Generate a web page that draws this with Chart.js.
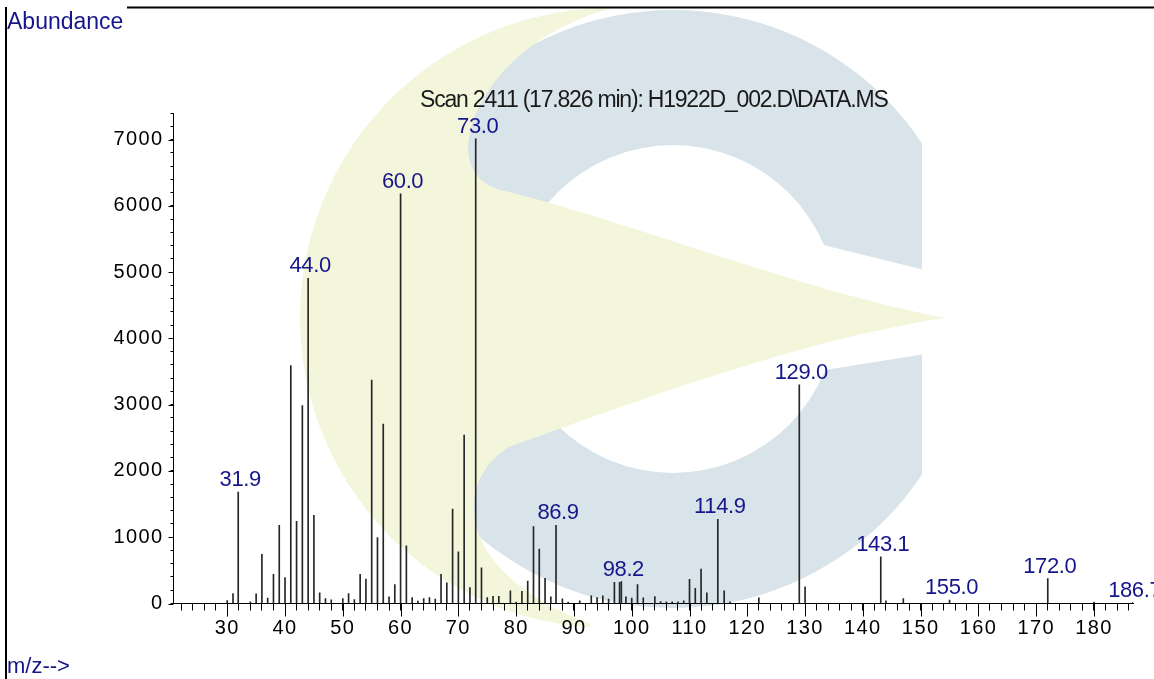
<!DOCTYPE html>
<html>
<head>
<meta charset="utf-8">
<title>Scan 2411 (17.826 min)</title>
<script src="https://cdn.jsdelivr.net/npm/chart.js@4.4.1/dist/chart.umd.min.js"></script>
<style>
    html, body { margin: 0; padding: 0; background: #fff; }
</style>
</head>
<body>
<canvas id="ms" width="1154" height="679"></canvas>
<script>
// peaks of the scan: m/z and abundance
const mz = [30, 31, 31.9, 34, 35, 36, 37, 38, 39, 40, 41, 42, 43, 44, 45, 46, 47, 48,
    50, 51, 52, 53, 54, 55, 56, 57, 58, 59, 60, 61, 62, 63, 64, 65, 66, 67, 68, 69,
    70, 71, 72, 73, 74, 75, 76, 77, 79, 80, 81, 82, 83, 84, 85, 86, 86.9, 88, 89,
    91, 93, 94, 95, 96, 97, 97.9, 98.2, 99, 100, 101, 102, 104, 105, 106, 107, 108,
    109, 110, 111, 112, 113, 114.9, 116, 117, 122, 129, 130, 143.1, 144, 147, 155,
    172, 180, 186.7];
const abundance = [45, 150, 1680, 25, 145, 740, 80, 440, 1180, 390, 3590, 1240, 2985, 4905, 1330, 160, 75, 55,
    75, 150, 60, 440, 370, 3370, 995, 2705, 100, 285, 6180, 870, 90, 35, 75, 90, 65, 440, 310, 1425,
    780, 2540, 240, 7010, 540, 90, 110, 110, 190, 20, 185, 340, 1160, 820, 380, 100, 1180, 70, 20,
    40, 115, 90, 115, 65, 320, 320, 330, 100, 80, 285, 85, 105, 30, 25, 25, 25,
    40, 365, 230, 520, 160, 1270, 190, 25, 85, 3300, 250, 705, 40, 75, 50,
    375, 20, 15];

// peaks that carry their m/z on top
const labelled = [31.9, 44.0, 60.0, 73.0, 86.9, 98.2, 114.9, 129.0, 143.1, 155.0, 172.0, 186.7];

const xTickLabels = [30, 40, 50, 60, 70, 80, 90, 100, 110, 120, 130, 140, 150, 160, 170, 180];
const yTickLabels = [0, 1000, 2000, 3000, 4000, 5000, 6000, 7000];

const title = "Scan 2411 (17.826 min): H1922D_002.D\\DATA.MS";
const navy = "#16168a";

// logo in the background
const watermark = {
    id: "watermark",
    beforeDraw(chart) {
        const ctx = chart.ctx;
        ctx.save();
        ctx.beginPath();
        ctx.rect(0, 0, 922, 679);
        ctx.clip();
        ctx.fillStyle = "#d8e3ea";
        ctx.beginPath();
        ctx.arc(673, 309, 299, 0, Math.PI * 2);
        ctx.arc(673, 309, 164, 0, Math.PI * 2, true);
        ctx.fill();
        ctx.fillStyle = "#fff";
        ctx.beginPath();
        ctx.moveTo(673, 309);
        ctx.lineTo(770, 232);
        ctx.lineTo(925, 270);
        ctx.lineTo(925, 354);
        ctx.lineTo(775, 378);
        ctx.closePath();
        ctx.fill();
        ctx.restore();

        ctx.save();
        ctx.fillStyle = "#f4f6dc";
        ctx.beginPath();
        ctx.moveTo(612, 8);
        ctx.bezierCurveTo(530, 30, 470, 90, 468, 150);
        ctx.quadraticCurveTo(470, 185, 509, 192);
        ctx.bezierCurveTo(640, 225, 800, 290, 945, 318);
        ctx.bezierCurveTo(800, 340, 640, 400, 509, 447);
        ctx.bezierCurveTo(455, 480, 450, 570, 590, 624);
        ctx.arc(610, 318, 310, Math.atan2(306, -20), Math.atan2(-310, 2) + Math.PI * 2, false);
        ctx.closePath();
        ctx.fill();
        ctx.restore();

        // wider tick digits
        ctx.letterSpacing = "1.4px";
    }
};

// longer ticks at the labelled values
const majorTicks = {
    id: "majorTicks",
    afterDraw(chart) {
        const { ctx, scales: { x, y } } = chart;
        ctx.save();
        ctx.strokeStyle = "#000";
        ctx.lineWidth = 1;
        ctx.beginPath();
        xTickLabels.forEach((v) => {
            const px = Math.round(x.getPixelForValue(v)) + 0.5;
            ctx.moveTo(px, x.top);
            ctx.lineTo(px, x.top + 13);
        });
        yTickLabels.forEach((v) => {
            const py = Math.round(y.getPixelForValue(v)) + 0.5;
            ctx.moveTo(y.right, py);
            ctx.lineTo(y.right - 5, py);
        });
        ctx.stroke();
        ctx.restore();
    }
};

const peakLabels = {
    id: "peakLabels",
    afterDatasetsDraw(chart) {
        const { ctx, scales: { x, y } } = chart;
        ctx.save();
        ctx.font = '22px "Liberation Sans", Arial, sans-serif';
        ctx.letterSpacing = "-0.4px";
        ctx.fillStyle = navy;
        ctx.textAlign = "center";
        ctx.textBaseline = "alphabetic";
        labelled.forEach((m) => {
            const i = mz.indexOf(m);
            const px = x.getPixelForValue(m) + 2;
            const py = y.getPixelForValue(abundance[i]) - 6;
            ctx.fillText(m.toFixed(1), px, py);
        });
        ctx.restore();
    }
};

const frame = {
    id: "frame",
    afterDraw(chart) {
        const ctx = chart.ctx;
        ctx.save();
        ctx.strokeStyle = "#000";
        ctx.lineWidth = 2;
        ctx.beginPath();
        ctx.moveTo(127, 7.5);
        ctx.lineTo(1154, 7.5);
        ctx.moveTo(6, 7);
        ctx.lineTo(6, 679);
        ctx.stroke();

        ctx.letterSpacing = "0px";
        ctx.fillStyle = navy;
        ctx.textAlign = "left";
        ctx.textBaseline = "alphabetic";
        ctx.font = '23px "Liberation Sans", Arial, sans-serif';
        ctx.fillText("Abundance", 7, 29);
        ctx.font = '22px "Liberation Sans", Arial, sans-serif';
        ctx.fillText("m/z-->", 7, 673);

        ctx.fillStyle = "#1a1a1a";
        ctx.font = '23px "Liberation Sans", Arial, sans-serif';
        ctx.letterSpacing = "-1.2px";
        ctx.fillText(title, 420, 107);
        ctx.restore();
    }
};

const tickFont = { family: '"Liberation Sans", Arial, sans-serif', size: 20 };

new Chart(document.getElementById("ms"), {
    type: "bar",
    data: {
        datasets: [
            {
                data: mz.map((m, i) => ({ x: m, y: abundance[i] })),
                backgroundColor: "#262626",
                barThickness: 1,
            },
        ],
    },
    options: {
        responsive: false,
        animation: false,
        devicePixelRatio: 1,
        layout: { padding: { top: 113, right: 21, left: 0, bottom: 0 } },
        plugins: {
            legend: { display: false },
            tooltip: { enabled: false },
        },
        scales: {
            x: {
                type: "linear",
                min: 20.7,
                max: 186.75,
                offset: false,
                grid: { drawOnChartArea: false, offset: false, tickLength: 7, color: "#000" },
                border: { color: "#000", width: 1 },
                ticks: {
                    stepSize: 2,
                    autoSkip: false,
                    includeBounds: false,
                    maxRotation: 0,
                    padding: 6,
                    color: "#000",
                    font: tickFont,
                    callback: (v) => (xTickLabels.includes(v) ? v : ""),
                },
                afterFit: (s) => { s.height = 75.5; },
            },
            y: {
                min: 0,
                max: 7400,
                grid: { drawOnChartArea: false, tickLength: 3, color: "#000" },
                border: { color: "#000", width: 1 },
                ticks: {
                    stepSize: 200,
                    autoSkip: false,
                    padding: 7,
                    color: "#000",
                    font: tickFont,
                    callback: (v) => (yTickLabels.includes(v) ? v : ""),
                },
                afterFit: (s) => { s.width = 173.5; },
            },
        },
    },
    plugins: [watermark, peakLabels, majorTicks, frame],
});
</script>
</body>
</html>
